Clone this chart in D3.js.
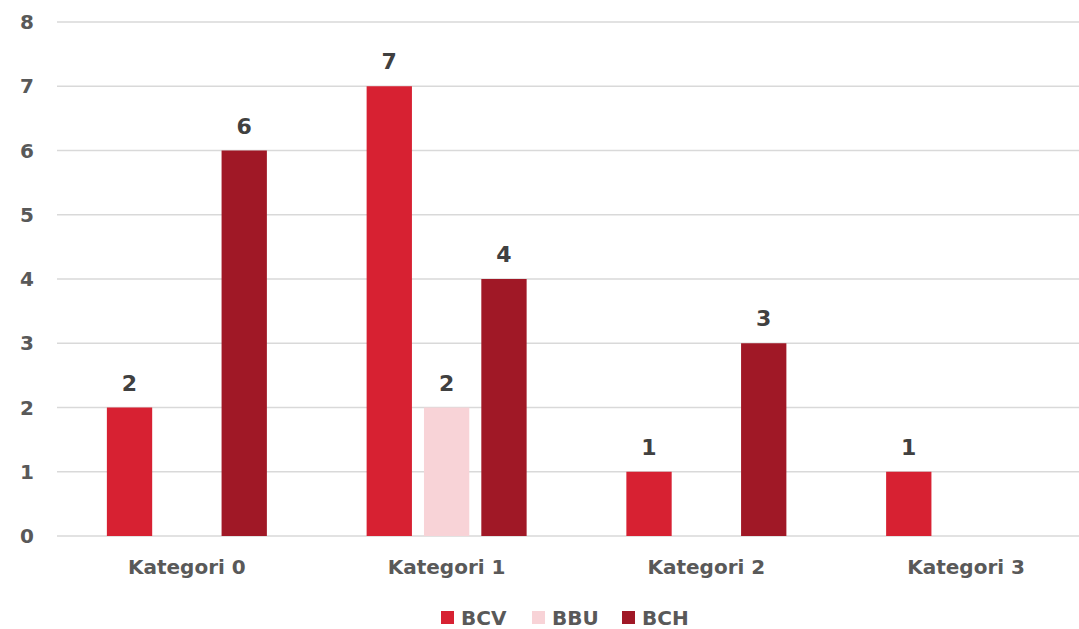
<!DOCTYPE html>
<html>
<head>
<meta charset="utf-8">
<script src="https://cdn.jsdelivr.net/npm/d3@7"></script>
<style>
body { margin: 0; background: #fff; }
text { font-family: "DejaVu Sans", sans-serif; font-weight: bold; }
</style>
</head>
<body>
<svg id="chart" width="1079" height="629"></svg>
<script>
const categories = ['Kategori 0', 'Kategori 1', 'Kategori 2', 'Kategori 3'];
const series = ['BCV', 'BBU', 'BCH'];
const colors = ['#d72132', '#f8d3d7', '#a01826'];
const BCV = [2, 7, 1, 1];
const BBU = [0, 2, 0, 0];
const BCH = [6, 4, 3, 0];
const yTicks = [0, 1, 2, 3, 4, 5, 6, 7, 8];

const values = [BCV, BBU, BCH];

const svg = d3.select('#chart');
const plotLeft = 57, plotRight = 1096, plotTop = 22, plotBottom = 536;

const x0 = d3.scaleBand().domain(categories).range([plotLeft, plotRight])
  .paddingInner(0.384).paddingOuter(0.192);
const x1 = d3.scaleBand().domain(series).range([0, x0.bandwidth()]).paddingInner(0.21);
const y = d3.scaleLinear().domain([0, 8]).range([plotBottom, plotTop]);
const color = d3.scaleOrdinal().domain(series).range(colors);

// gridlines
svg.append('g').selectAll('line').data(yTicks).join('line')
  .attr('x1', plotLeft).attr('x2', plotRight)
  .attr('y1', d => y(d)).attr('y2', d => y(d))
  .attr('stroke', '#d9d9d9').attr('stroke-width', 1.5);

// y labels
svg.append('g').selectAll('text').data(yTicks).join('text')
  .attr('x', 34).attr('y', d => y(d)).attr('dy', '0.36em')
  .attr('text-anchor', 'end').attr('font-size', 20).attr('fill', '#595959')
  .text(d => d);

// bars
const groups = svg.append('g').selectAll('g').data(categories).join('g')
  .attr('transform', d => `translate(${x0(d)},0)`);

const cells = groups.selectAll('g').data((c, i) => series.map((s, j) => ({ s, v: values[j][i] })))
  .join('g').filter(d => d.v > 0);

cells.append('rect')
  .attr('x', d => x1(d.s)).attr('width', x1.bandwidth())
  .attr('y', d => y(d.v)).attr('height', d => y(0) - y(d.v))
  .attr('fill', d => color(d.s));

cells.append('text')
  .attr('x', d => x1(d.s) + x1.bandwidth() / 2).attr('y', d => y(d.v) - 17)
  .attr('text-anchor', 'middle').attr('font-size', 22).attr('fill', '#404040')
  .text(d => d.v);

// category labels
svg.append('g').selectAll('text').data(categories).join('text')
  .attr('x', d => x0(d) + x0.bandwidth() / 2).attr('y', 574)
  .attr('text-anchor', 'middle').attr('font-size', 20).attr('fill', '#595959')
  .text(d => d);

// legend
const legendX = [441, 532, 622];
const legend = svg.append('g').selectAll('g').data(series).join('g')
  .attr('transform', (d, i) => `translate(${legendX[i]},611)`);
legend.append('rect').attr('width', 13).attr('height', 13).attr('fill', d => color(d));
legend.append('text').attr('x', 20).attr('y', 6.5).attr('dy', '0.36em')
  .attr('font-size', 20).attr('fill', '#595959').text(d => d);
</script>
</body>
</html>
